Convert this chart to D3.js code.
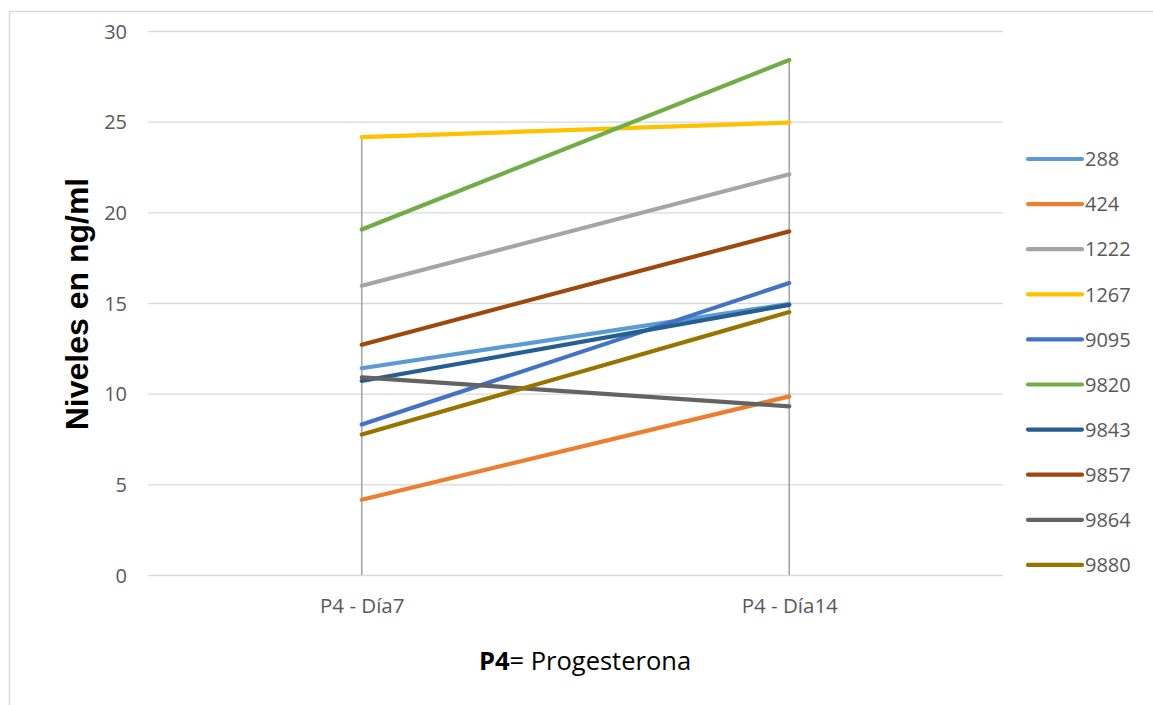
<!DOCTYPE html>
<html>
<head>
<meta charset="utf-8">
<script src="https://cdn.jsdelivr.net/npm/d3@7"></script>
<style>
  html, body { margin: 0; padding: 0; background: #fff; }
  svg { display: block; }
</style>
</head>
<body>
<svg id="chart" width="1153" height="705"></svg>
<script>
// Progesterone levels per animal, day 7 vs day 14
const categories = ["P4 - Día7", "P4 - Día14"];
const seriesNames = ["288", "424", "1222", "1267", "9095", "9820", "9843", "9857", "9864", "9880"];
const day7Values  = [11.4, 4.15, 15.95, 24.15, 8.3, 19.05, 10.7, 12.7, 10.9, 7.75];
const day14Values = [14.95, 9.85, 22.1, 24.95, 16.1, 28.4, 14.9, 18.95, 9.3, 14.5];
const seriesColors = ["#5B9BD5", "#ED7D31", "#A5A5A5", "#FFC000", "#4472C4",
                      "#70AD47", "#255E91", "#9E480E", "#636363", "#997300"];
const yTicks = [0, 5, 10, 15, 20, 25, 30];

const svg = d3.select("#chart");
const labelFont = "'Open Sans', 'Noto Sans', sans-serif";

// chart frame
svg.append("rect")
  .attr("x", 9.5).attr("y", 11.5)
  .attr("width", 1160).attr("height", 720)
  .attr("fill", "none").attr("stroke", "#D9D9D9").attr("stroke-width", 1.5);

const plot = { left: 148, right: 1003, top: 31, bottom: 575 };

const x = d3.scalePoint().domain(categories)
  .range([plot.left, plot.right]).padding(0.5);
const y = d3.scaleLinear().domain([0, 30]).range([plot.bottom, plot.top]);

// horizontal gridlines
svg.append("g")
  .selectAll("line").data(yTicks).join("line")
  .attr("x1", plot.left).attr("x2", plot.right)
  .attr("y1", d => y(d) + 0.5).attr("y2", d => y(d) + 0.5)
  .attr("stroke", "#D9D9D9").attr("stroke-width", 1.3);

// y axis tick labels
const yAxis = d3.axisLeft(y).tickValues(yTicks).tickSize(0).tickPadding(0);
const gy = svg.append("g").attr("transform", `translate(${plot.left - 21},0)`).call(yAxis);
gy.select(".domain").remove();
gy.selectAll("text")
  .attr("font-family", labelFont)
  .attr("font-size", 20).attr("fill", "#595959").attr("dy", "0.35em");

// x axis category labels
const xAxis = d3.axisBottom(x).tickSize(0).tickPadding(0);
const gx = svg.append("g").attr("transform", `translate(0,${plot.bottom + 31})`).call(xAxis);
gx.select(".domain").remove();
gx.selectAll("text")
  .attr("font-family", labelFont)
  .attr("font-size", 20.5).attr("fill", "#595959").attr("dy", "0.35em");

// drop lines from the highest point of each category to the axis
const maxPerCategory = [d3.max(day7Values), d3.max(day14Values)];
svg.append("g")
  .selectAll("line").data(categories).join("line")
  .attr("x1", d => x(d)).attr("x2", d => x(d))
  .attr("y1", (d, i) => y(maxPerCategory[i])).attr("y2", y(0))
  .attr("stroke", "#A5A5A5").attr("stroke-width", 1.6);

// series lines
const seriesData = seriesNames.map((name, i) => ({
  name,
  color: seriesColors[i],
  points: [{ c: categories[0], v: day7Values[i] }, { c: categories[1], v: day14Values[i] }]
}));
const line = d3.line().x(d => x(d.c)).y(d => y(d.v));
svg.append("g")
  .selectAll("path").data(seriesData).join("path")
  .attr("d", d => line(d.points))
  .attr("fill", "none")
  .attr("stroke", d => d.color)
  .attr("stroke-width", 4.2)
  .attr("stroke-linecap", "round");

// legend
const legend = svg.append("g").attr("transform", "translate(1027,159)");
const items = legend.selectAll("g").data(seriesData).join("g")
  .attr("transform", (d, i) => `translate(0,${i * 45.1})`);
items.append("line")
  .attr("x1", 1).attr("x2", 55).attr("y1", 0).attr("y2", 0)
  .attr("stroke", d => d.color).attr("stroke-width", 4.2).attr("stroke-linecap", "round");
items.append("text")
  .attr("x", 58).attr("y", 0).attr("dy", "0.36em")
  .attr("font-family", labelFont)
  .attr("font-size", 20).attr("fill", "#595959")
  .text(d => d.name);

// y axis title
svg.append("text")
  .attr("transform", `translate(88,304) rotate(-90)`)
  .attr("text-anchor", "middle")
  .attr("font-family", "'Liberation Sans', Arial, sans-serif")
  .attr("font-weight", "bold").attr("font-size", 32).attr("fill", "#000")
  .text("Niveles en ng/ml");

// x axis title
const xt = svg.append("text")
  .attr("x", 585).attr("y", 670)
  .attr("text-anchor", "middle")
  .attr("font-family", labelFont)
  .attr("font-size", 25.5).attr("fill", "#000");
xt.append("tspan").attr("font-weight", "bold").text("P4");
xt.append("tspan").text("= Progesterona");
</script>
</body>
</html>
